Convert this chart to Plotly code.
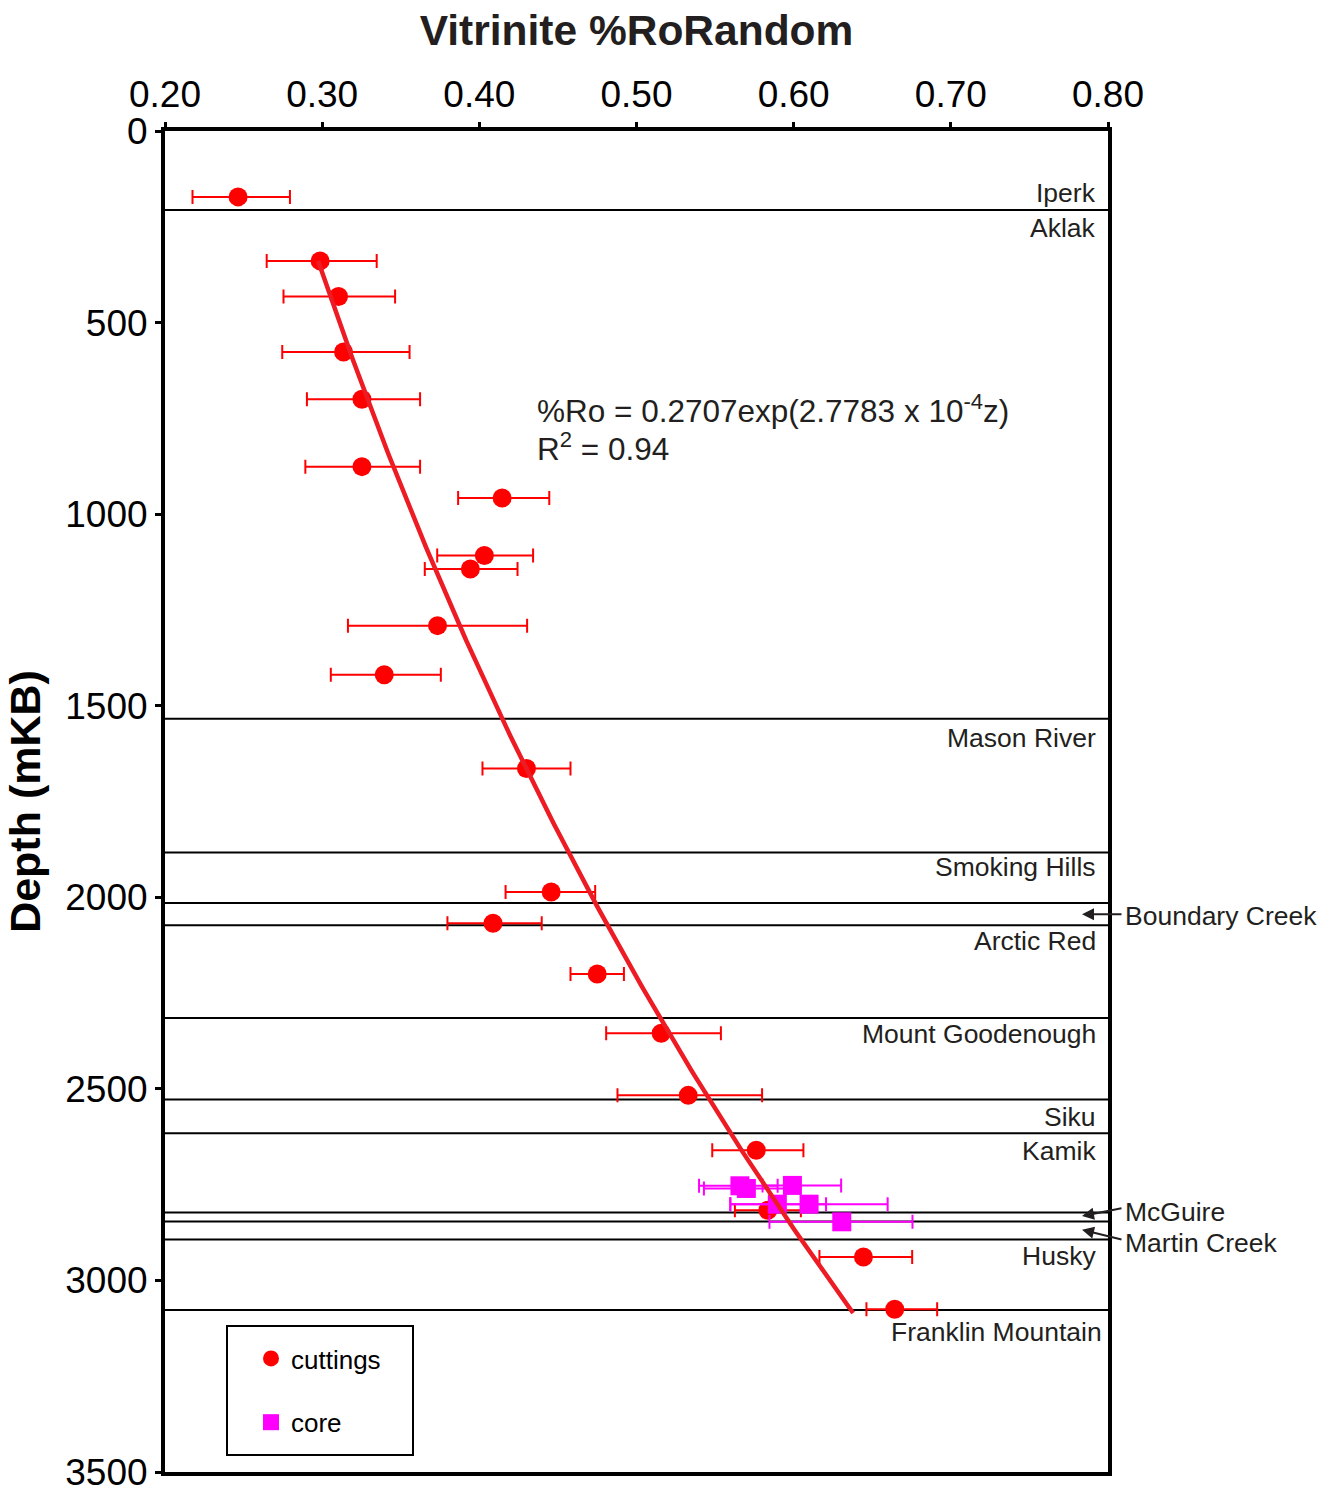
import numpy as np
import plotly.graph_objects as go

# ---------------- data ----------------
cut_ro = [0.2465, 0.2987, 0.3104, 0.3136, 0.3253, 0.3253, 0.4145, 0.4032, 0.3943, 0.3734, 0.3395,
          0.4300, 0.4457, 0.4087, 0.4750, 0.5157, 0.5329, 0.5762, 0.5836, 0.6444, 0.6643]
cut_depth = [172, 339, 432, 577, 700, 876, 958, 1108, 1143, 1291, 1419,
             1664, 1986, 2068, 2200, 2355, 2517, 2660, 2817, 2939, 3075]
cut_err_minus = [0.029, 0.034, 0.035, 0.039, 0.035, 0.036, 0.028, 0.030, 0.029, 0.057, 0.034,
                 0.028, 0.029, 0.029, 0.017, 0.035, 0.045, 0.028, 0.021, 0.028, 0.018]
cut_err_plus = [0.033, 0.036, 0.036, 0.042, 0.037, 0.037, 0.030, 0.031, 0.030, 0.057, 0.036,
                0.028, 0.028, 0.031, 0.017, 0.038, 0.047, 0.030, 0.021, 0.031, 0.027]

core_ro = [0.5658, 0.5699, 0.5992, 0.5896, 0.6098, 0.6306]
core_depth = [2753, 2760, 2752, 2801, 2801, 2847]
core_err_minus = [0.026, 0.027, 0.019, 0.030, 0.050, 0.046]
core_err_plus = [0.024, 0.025, 0.031, 0.031, 0.050, 0.045]

# fitted trend: %Ro = a * exp(b * z)
fit_a = 0.2707
fit_b = 2.7783e-4
fit_z_range = [339, 3085]

# formation boundaries (depth, m)
boundary_depths = [206, 1534, 1883, 2015, 2073, 2315, 2528, 2616, 2823, 2846, 2893, 3077]

# in-plot formation labels
form_names = ["Iperk", "Aklak", "Mason River", "Smoking Hills", "Arctic Red", "Mount Goodenough",
              "Siku", "Kamik", "Husky", "Franklin Mountain"]
form_label_depths = [162, 253, 1583, 1922, 2115, 2358, 2574, 2663, 2937, 3135]

# outside labels with arrows
out_names = ["Boundary Creek", "McGuire", "Martin Creek"]
out_label_depths = [2048, 2822, 2903]
out_arrow_depths = [2044, 2832, 2868]

x_ticks = [0.2, 0.3, 0.4, 0.5, 0.6, 0.7, 0.8]
y_ticks = [0, 500, 1000, 1500, 2000, 2500, 3000, 3500]

# ---------------- figure ----------------
W, H = 1337, 1490
L, R, T, B = 165, 229, 131, 18
pw = W - L - R
ph = H - T - B

def px_to_paper_x(px):
    return (px - L) / pw

def px_to_paper_y(py):
    return (H - B - py) / ph

FONT = "Liberation Sans, Arial, sans-serif"
TXT = "#231f20"

fig = go.Figure()

fig.add_trace(go.Scatter(
    x=cut_ro, y=cut_depth, mode="markers", name="cuttings", legendgroup="a",
    marker=dict(symbol="circle", size=19, color="#ff0000"),
    error_x=dict(type="data", symmetric=False, array=cut_err_plus, arrayminus=cut_err_minus,
                 color="#ff0000", thickness=2, width=7)))

fig.add_trace(go.Scatter(
    x=core_ro, y=core_depth, mode="markers", name="core", legendgroup="b",
    marker=dict(symbol="square", size=19, color="#ff00ff"),
    error_x=dict(type="data", symmetric=False, array=core_err_plus, arrayminus=core_err_minus,
                 color="#ff00ff", thickness=2, width=7)))

# trend line (drawn on top)
z = np.linspace(fit_z_range[0], fit_z_range[1], 200)
fig.add_trace(go.Scatter(x=fit_a * np.exp(fit_b * z), y=z, mode="lines",
                         line=dict(color="#ed1c24", width=4.5), showlegend=False,
                         hoverinfo="skip"))

shapes = []
for d in boundary_depths:
    shapes.append(dict(type="line", xref="paper", yref="y", x0=0, x1=1, y0=d, y1=d,
                       line=dict(color="black", width=2), layer="below"))
# legend box
shapes.append(dict(type="rect", xref="paper", yref="paper",
                   x0=px_to_paper_x(227), x1=px_to_paper_x(413),
                   y0=px_to_paper_y(1455), y1=px_to_paper_y(1326),
                   line=dict(color="black", width=2), fillcolor="white", layer="below"))

annotations = []
for name, d in zip(form_names, form_label_depths):
    xr = 1104 if name == "Franklin Mountain" else 1098
    annotations.append(dict(x=px_to_paper_x(xr), xref="paper", y=d, yref="y", text=name,
                            showarrow=False, xanchor="right", yanchor="middle",
                            font=dict(family=FONT, size=26.5, color=TXT)))
for name, dl, da in zip(out_names, out_label_depths, out_arrow_depths):
    annotations.append(dict(x=px_to_paper_x(1123), xref="paper", y=dl, yref="y", text=name,
                            showarrow=False, xanchor="left", yanchor="middle",
                            font=dict(family=FONT, size=26.5, color=TXT)))
    tail_dy = {"Boundary Creek": 0, "McGuire": -8, "Martin Creek": 10}[name]
    annotations.append(dict(x=px_to_paper_x(1082), xref="paper", y=da, yref="y", text="",
                            showarrow=True, ax=41, ay=tail_dy, arrowhead=2, arrowsize=1.2,
                            arrowwidth=2, arrowcolor=TXT, standoff=0))

# equation
annotations.append(dict(x=px_to_paper_x(535), xref="paper", y=px_to_paper_y(409), yref="paper",
                        text="%Ro = 0.2707exp(2.7783 x 10<sup>-4</sup>z)", showarrow=False,
                        xanchor="left", yanchor="middle",
                        font=dict(family=FONT, size=31.5, color=TXT)))
annotations.append(dict(x=px_to_paper_x(535), xref="paper", y=px_to_paper_y(447), yref="paper",
                        text="R<sup>2</sup> = 0.94", showarrow=False,
                        xanchor="left", yanchor="middle",
                        font=dict(family=FONT, size=31.5, color=TXT)))

fig.update_layout(
    width=W, height=H,
    margin=dict(l=L, r=R, t=T, b=B, pad=0, autoexpand=False),
    paper_bgcolor="white", plot_bgcolor="white",
    font=dict(family=FONT, color="black"),
    shapes=shapes, annotations=annotations,
    title=dict(text="<b>Vitrinite %RoRandom</b>", x=(L + pw / 2) / W, xanchor="center",
               y=1 - 30 / H, yanchor="middle", font=dict(family=FONT, size=42.5, color=TXT)),
    legend=dict(x=px_to_paper_x(251), y=px_to_paper_y(1335), xanchor="left", yanchor="top",
                bgcolor="rgba(0,0,0,0)", borderwidth=0, tracegroupgap=27,
                traceorder="grouped",
                font=dict(family=FONT, size=26, color="black"), itemwidth=30),
    showlegend=True,
)

fig.update_xaxes(range=[0.2, 0.8], side="top", tickvals=x_ticks, tickformat=".2f",
                 showgrid=False, zeroline=False, showline=True, linecolor="black", linewidth=4,
                 mirror=True, ticks="outside", ticklen=5, tickwidth=3, tickcolor="black",
                 ticklabeloverflow="allow", automargin=False,
                 tickfont=dict(family=FONT, size=37, color="black"))
fig.update_yaxes(range=[3500, 0], tickvals=y_ticks, showgrid=False, zeroline=False,
                 showline=True, linecolor="black", linewidth=4, mirror=True,
                 ticks="outside", ticklen=6, tickwidth=3, tickcolor="black",
                 ticklabeloverflow="allow", automargin=False,
                 tickfont=dict(family=FONT, size=37, color="black"),
                 title=dict(text="<b>Depth (mKB)</b>", standoff=12,
                            font=dict(family=FONT, size=43, color="black")))

fig.write_html("out.html")
